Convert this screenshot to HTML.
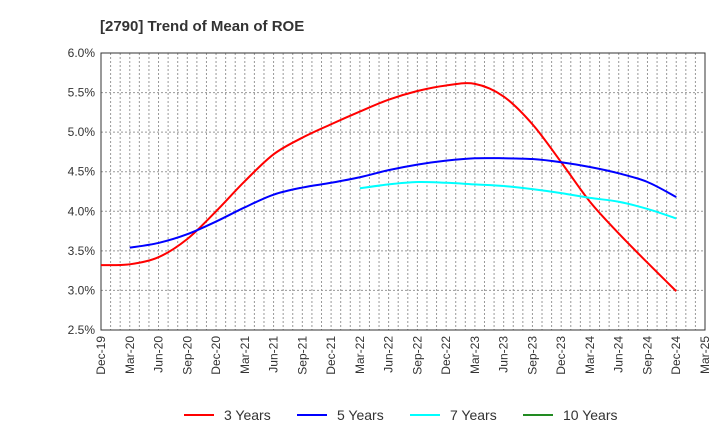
<!DOCTYPE html>
<html><head><meta charset="utf-8"><style>
body{margin:0;background:#fff;font-family:"Liberation Sans",sans-serif}
svg text{font-family:"Liberation Sans",sans-serif}
</style></head><body>
<svg id="c" width="720" height="440" xmlns="http://www.w3.org/2000/svg">
<text x="100" y="31" font-size="15" font-weight="bold" fill="#333">[2790]  Trend of Mean of ROE</text>
<g id="grid"></g>
<g id="axes"></g>
<g id="series"></g>
<g id="legend"></g>
</svg>
<script>
const xLabels=["Dec-19","Mar-20","Jun-20","Sep-20","Dec-20","Mar-21","Jun-21","Sep-21","Dec-21","Mar-22","Jun-22","Sep-22","Dec-22","Mar-23","Jun-23","Sep-23","Dec-23","Mar-24","Jun-24","Sep-24","Dec-24","Mar-25"];
const yTicks=[2.5,3.0,3.5,4.0,4.5,5.0,5.5,6.0];
const s3=[3.32,3.33,3.42,3.65,4.00,4.38,4.72,4.93,5.10,5.26,5.41,5.52,5.59,5.61,5.45,5.10,4.62,4.12,3.72,3.35,2.99];
const s5=[null,3.54,3.60,3.71,3.87,4.05,4.21,4.30,4.36,4.43,4.52,4.59,4.64,4.67,4.67,4.66,4.62,4.56,4.48,4.37,4.18];
const s7=[null,null,null,null,null,null,null,null,null,4.29,4.34,4.37,4.36,4.34,4.32,4.28,4.23,4.17,4.12,4.03,3.91];
const s10=[];
const NS="http://www.w3.org/2000/svg";
const L=101,R=705,T=53,B=330,yMin=2.5,yMax=6.0;
const nQ=xLabels.length-1;
function xq(i){return L+(R-L)*i/nQ;}
function xm(m){return L+(R-L)*m/(nQ*3);}
function y(v){return B-(v-yMin)/(yMax-yMin)*(B-T);}
function mk(tag,attrs,parent){const e=document.createElementNS(NS,tag);for(const k in attrs)e.setAttribute(k,attrs[k]);parent.appendChild(e);return e;}
const grid=document.getElementById('grid'),axes=document.getElementById('axes'),ser=document.getElementById('series'),leg=document.getElementById('legend');
for(let m=1;m<nQ*3;m++){const l=mk('line',{x1:xm(m),x2:xm(m),y1:T,y2:B,stroke:'#999','stroke-width':1,'stroke-dasharray':'2,2'},grid);

}
yTicks.forEach(v=>{
 if(v>yMin&&v<yMax){const l=mk('line',{x1:L,x2:R,y1:y(v),y2:y(v),stroke:'#999','stroke-width':1,'stroke-dasharray':'2,2'},grid);
 
 }
 const t=mk('text',{x:L-6,y:y(v)+4,'text-anchor':'end','font-size':12,fill:'#333'},axes);t.textContent=v.toFixed(1)+'%';
 
 
});
const fr=mk('rect',{x:L,y:T,width:R-L,height:B-T,fill:'none',stroke:'#333','stroke-width':1},axes);


xLabels.forEach((lb,i)=>{const t=mk('text',{transform:`translate(${xq(i)+4},${B+6}) rotate(-90)`,'text-anchor':'end','font-size':12,fill:'#333'},axes);t.textContent=lb;
 
 });
function path(arr){const p=[];arr.forEach((v,i)=>{if(v!=null)p.push([xq(i),y(v)]);});if(p.length<2)return '';
 let d=`M${p[0][0]},${p[0][1]}`;
 for(let i=0;i<p.length-1;i++){const p0=p[i-1]||p[i],p1=p[i],p2=p[i+1],p3=p[i+2]||p2;
 d+=` C${p1[0]+(p2[0]-p0[0])/6},${p1[1]+(p2[1]-p0[1])/6} ${p2[0]-(p3[0]-p1[0])/6},${p2[1]-(p3[1]-p1[1])/6} ${p2[0]},${p2[1]}`;}
 return d;}
[[s3,'#ff0000','series-3-years'],[s5,'#0000ff','series-5-years'],[s7,'#00ffff','series-7-years'],[s10,'#228b22','series-10-years']].forEach(([a,c,n])=>{
 const d=path(a);if(!d)return;const e=mk('path',{d:d,fill:'none',stroke:c,'stroke-width':2},ser);
 
 });
[['3 Years','#ff0000',184],['5 Years','#0000ff',297],['7 Years','#00ffff',410],['10 Years','#228b22',523]].forEach(([lb,c,x])=>{
 const g=mk('g',{},leg);
 
 
 mk('line',{x1:x,x2:x+30,y1:415,y2:415,stroke:c,'stroke-width':2},g);
 const t=mk('text',{x:x+40,y:420,'font-size':14,fill:'#333'},g);t.textContent=lb;});
</script>
</body></html>
